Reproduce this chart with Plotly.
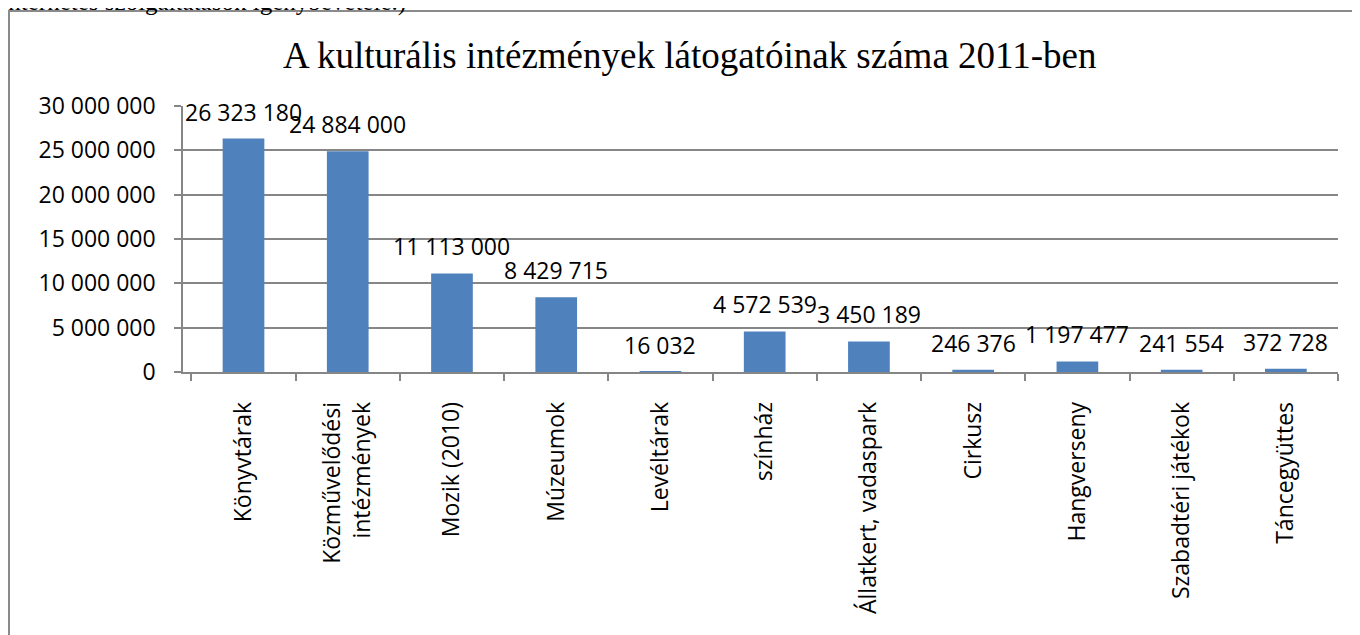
import plotly.graph_objects as go

categories = ["Könyvtárak", "Közművelődési<br>intézmények", "Mozik (2010)", "Múzeumok", "Levéltárak",
              "színház", "Állatkert, vadaspark", "Cirkusz", "Hangverseny", "Szabadtéri játékok", "Táncegyüttes"]
values = [26323180, 24884000, 11113000, 8429715, 16032, 4572539, 3450189, 246376, 1197477, 241554, 372728]
y_ticks = [0, 5000000, 10000000, 15000000, 20000000, 25000000, 30000000]

title_text = "A kulturális intézmények látogatóinak száma 2011-ben"
header_text = "Internetes szolgáltatások igénybevétele.)"

# page has an 8px body margin; figure coordinates are page coordinates minus 8
W, H = 1352, 627
L, R, T, B = 175, 22, 98, 263
pw, ph = W - L - R, H - T - B

def px_x(x):  # figure px -> paper
    return (x - L) / pw

def px_y(y):  # figure px (from top) -> paper
    return (H - B - y) / ph

def fmt(v):
    return f"{v:,}".replace(",", " ")

fig = go.Figure()
fig.add_trace(go.Bar(x=categories, y=values, marker=dict(color="#4F81BD", line=dict(width=0)),
                     width=0.4, hoverinfo="skip"))

for c, v in zip(categories, values):
    fig.add_annotation(x=c, y=v, xref="x", yref="y", text=fmt(v), showarrow=False,
                       yanchor="middle", yshift=27,
                       font=dict(family="Open Sans", size=23, color="#000000"))

fig.add_annotation(x=px_x(681), y=px_y(47), xref="paper", yref="paper",
                   text=title_text, showarrow=False, xanchor="center", yanchor="middle",
                   font=dict(family="Liberation Serif", size=37, color="#000000"))

fig.add_annotation(x=px_x(-10), y=px_y(-6), xref="paper", yref="paper",
                   text=header_text, showarrow=False, xanchor="left", yanchor="middle",
                   font=dict(family="Liberation Serif", size=25, color="#000000"))

fig.add_shape(type="rect", xref="paper", yref="paper",
              x0=px_x(1), x1=px_x(1400),
              y0=px_y(700), y1=px_y(3),
              line=dict(color="#8a8a8a", width=2), fillcolor="rgba(0,0,0,0)", layer="below")

fig.update_layout(
    width=W, height=H,
    margin=dict(l=L, r=R, t=T, b=B, autoexpand=False),
    paper_bgcolor="white", plot_bgcolor="white",
    separators=", ",
    showlegend=False,
    xaxis=dict(type="category", tickson="boundaries", ticks="outside", ticklen=7, tickcolor="#868686",
               tickwidth=1.5,
               showline=True, linecolor="#868686", linewidth=1.5, showgrid=False,
               tickangle=-90, ticklabelstandoff=19,
               tickfont=dict(family="Open Sans", size=23, color="#000000")),
    yaxis=dict(range=[0, 30000000], tickvals=y_ticks, tickformat=",d", ticks="outside", ticklen=7,
               tickcolor="#868686", tickwidth=1.5, showline=True, linecolor="#868686", linewidth=1.5,
               showgrid=True, gridcolor="#868686", gridwidth=1.5, zeroline=False,
               ticklabelstandoff=14,
               tickfont=dict(family="Open Sans", size=23, color="#000000")),
)

fig.write_html("out.html")
